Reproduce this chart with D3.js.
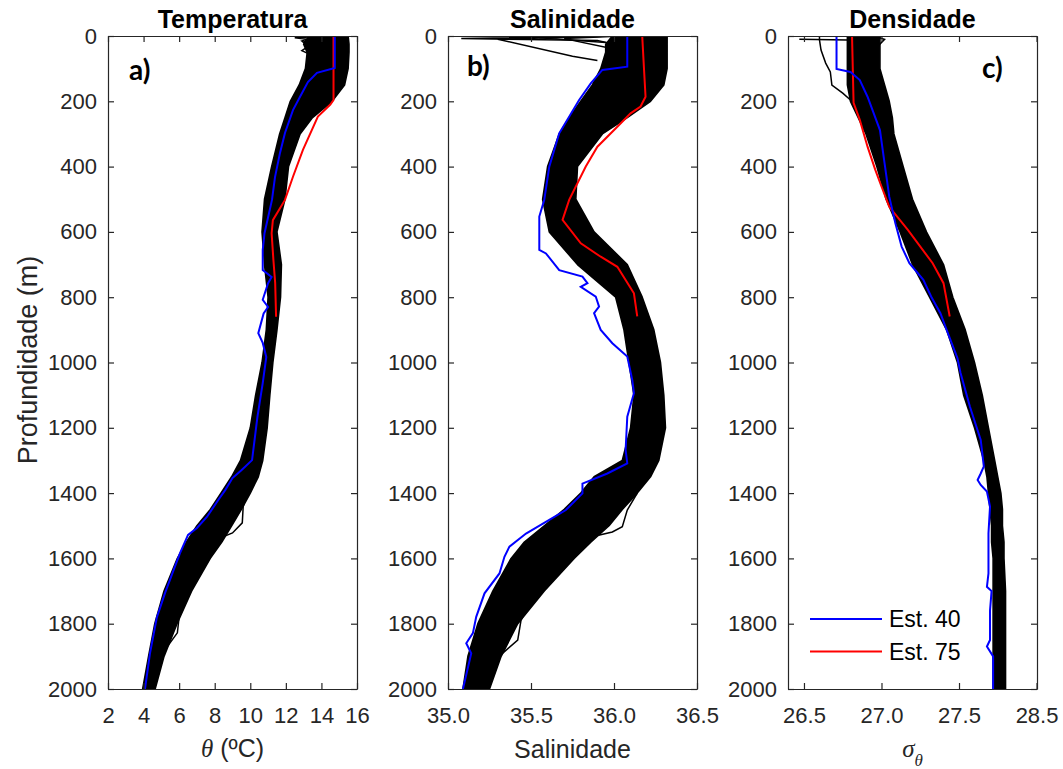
<!DOCTYPE html>
<html>
<head>
<meta charset="utf-8">
<script src="https://cdn.jsdelivr.net/npm/d3@7"></script>
<style>
  body { margin: 0; background: #fff; }
  text { font-family: "Liberation Sans", Arial, sans-serif; }
</style>
</head>
<body>
<svg id="chart" width="1063" height="769"></svg>
<script>
// ---------------- DATA ----------------
const depthTicks = [0, 200, 400, 600, 800, 1000, 1200, 1400, 1600, 1800, 2000];

// common depth grid for the envelope of the ~70 black casts
const depthGrid = [0, 25, 50, 100, 150, 200, 250, 300, 400, 500, 600, 700, 800, 900, 1000, 1100, 1200, 1300, 1350, 1400, 1450, 1500, 1550, 1600, 1700, 1800, 1900, 2000];

// Temperature (theta, degC)
const tempTicks = [2, 4, 6, 8, 10, 12, 14, 16];
const tempTickLabels = ["2", "4", "6", "8", "10", "12", "14", "16"];
const tempCastsMin = [13.3, 13.0, 13.2, 13.1, 12.75, 12.25, 11.95, 11.65, 11.2, 10.8, 10.66, 10.8, 11.0, 10.9, 10.66, 10.3, 10.0, 9.45, 8.95, 8.35, 7.75, 7.0, 6.4, 5.9, 5.15, 4.63, 4.28, 3.95];
const tempCastsMax = [15.5, 15.55, 15.55, 15.5, 15.3, 14.6, 13.5, 12.8, 12.15, 11.95, 11.5, 11.75, 11.7, 11.5, 11.27, 11.1, 10.95, 10.7, 10.45, 10.0, 9.5, 8.95, 8.4, 7.75, 6.7, 5.88, 5.15, 4.65];
const tempOutlierA = [[1380, 9.9], [1442, 9.6], [1491, 9.55], [1522, 9.0], [1534, 8.46], [1550, 8.1]];
const tempOutlierB = [[1730, 6.3], [1779, 6.0], [1828, 5.9], [1865, 5.4], [1885, 5.05]];
const tempSpikeA = [[0, 14.5], [5, 12.5], [10, 13.2], [20, 13.0], [35, 13.6]];
const tempSpikeB = [[0, 13.8], [15, 12.9], [30, 13.3], [45, 12.9], [60, 13.5]];
const tempEst40 = [[0, 14.75], [98, 14.75], [113, 13.75], [141, 13.24], [187, 12.79], [227, 12.4], [297, 11.95], [358, 11.67], [432, 11.39], [502, 11.22], [604, 10.8], [655, 10.7], [717, 10.7], [738, 11.2], [757, 11.0], [808, 10.7], [830, 11.0], [850, 10.75], [910, 10.45], [940, 10.7], [983, 10.9], [1063, 10.7], [1167, 10.4], [1299, 10.1], [1330, 9.5], [1354, 9.0], [1390, 8.6], [1421, 8.2], [1473, 7.56], [1507, 7.0], [1528, 6.5], [1584, 6.05], [1641, 5.65], [1707, 5.2], [1780, 4.75], [1891, 4.36], [2000, 4.08]];
const tempEst75 = [[0, 14.68], [196, 14.68], [210, 14.5], [247, 13.8], [349, 12.96], [431, 12.4], [502, 11.95], [564, 11.27], [604, 11.2], [686, 11.3], [757, 11.4], [860, 11.45]];

// Salinity
const salTicks = [35.0, 35.5, 36.0, 36.5];
const salTickLabels = ["35.0", "35.5", "36.0", "36.5"];
const salCastsMin = [35.99, 35.95, 35.95, 35.92, 35.87, 35.80, 35.73, 35.67, 35.60, 35.57, 35.61, 35.78, 36.01, 36.06, 36.09, 36.12, 36.10, 36.05, 35.88, 35.80, 35.70, 35.58, 35.46, 35.38, 35.27, 35.18, 35.12, 35.09];
const salCastsMax = [36.32, 36.32, 36.32, 36.32, 36.30, 36.22, 36.08, 35.93, 35.78, 35.77, 35.88, 36.08, 36.17, 36.24, 36.28, 36.30, 36.31, 36.27, 36.22, 36.14, 36.05, 35.97, 35.86, 35.76, 35.58, 35.42, 35.32, 35.25];
const salOutlierA = [[1400, 36.14], [1452, 36.08], [1503, 36.05], [1519, 35.99], [1530, 35.90]];
const salOutlierB = [[1750, 35.48], [1789, 35.44], [1850, 35.42], [1890, 35.33], [1910, 35.28]];
const salSpikeA = [[0, 36.02], [8, 35.08], [14, 35.9], [25, 36.0]];
const salSpikeB = [[0, 35.98], [10, 35.3], [62, 35.75], [75, 35.9]];
const salSpikeC = [[0, 36.0], [5, 35.55], [20, 35.95]];
const salSpikeD = [[0, 36.05], [8, 35.7], [40, 36.0]];
const salEst40 = [[0, 36.08], [94, 36.08], [104, 35.93], [145, 35.86], [196, 35.79], [298, 35.67], [400, 35.61], [502, 35.58], [553, 35.55], [655, 35.55], [666, 35.59], [717, 35.67], [737, 35.81], [757, 35.84], [768, 35.80], [798, 35.89], [829, 35.91], [849, 35.88], [900, 35.92], [941, 35.99], [982, 36.08], [1053, 36.11], [1094, 36.12], [1166, 36.08], [1268, 36.07], [1309, 36.08], [1340, 35.96], [1371, 35.81], [1401, 35.81], [1452, 35.71], [1482, 35.61], [1524, 35.47], [1564, 35.37], [1595, 35.34], [1646, 35.31], [1707, 35.22], [1779, 35.17], [1829, 35.15], [1860, 35.11], [1891, 35.14], [2000, 35.09]];
const salEst75 = [[0, 36.17], [94, 36.18], [186, 36.19], [216, 36.16], [237, 36.10], [278, 36.02], [339, 35.90], [400, 35.83], [502, 35.73], [563, 35.69], [635, 35.80], [676, 35.92], [707, 36.02], [788, 36.12], [859, 36.14]];

// Density (sigma-theta)
const densTicks = [26.5, 27.0, 27.5, 28.0];
const densTickLabels = ["26.5", "27.0", "27.5", "28.5"];
const densCastsMin = [26.78, 26.78, 26.78, 26.78, 26.78, 26.80, 26.85, 26.90, 26.97, 27.03, 27.12, 27.20, 27.31, 27.42, 27.49, 27.53, 27.60, 27.66, 27.68, 27.69, 27.70, 27.71, 27.71, 27.72, 27.72, 27.72, 27.72, 27.72];
const densCastsMax = [26.99, 26.99, 26.99, 26.99, 27.02, 27.05, 27.07, 27.08, 27.14, 27.20, 27.29, 27.40, 27.46, 27.54, 27.60, 27.65, 27.69, 27.73, 27.75, 27.77, 27.78, 27.78, 27.79, 27.79, 27.80, 27.80, 27.80, 27.80];
const densOutlierA = [[0, 26.60], [12, 26.60], [43, 26.61], [83, 26.64], [110, 26.67], [150, 26.68], [175, 26.75], [196, 26.80]];
const densSpikeA = [[10, 26.47], [12, 26.78], [20, 26.85]];
const densSpikeB = [[0, 26.95], [10, 27.02], [30, 26.98]];
const densEst40 = [[0, 26.71], [101, 26.71], [110, 26.80], [135, 26.86], [186, 26.91], [288, 26.99], [390, 27.02], [492, 27.05], [574, 27.09], [645, 27.13], [696, 27.18], [747, 27.27], [798, 27.32], [849, 27.38], [900, 27.42], [987, 27.49], [1032, 27.51], [1135, 27.57], [1237, 27.64], [1318, 27.66], [1340, 27.64], [1360, 27.62], [1375, 27.64], [1395, 27.68], [1441, 27.70], [1523, 27.69], [1646, 27.69], [1687, 27.68], [1700, 27.71], [1760, 27.70], [1850, 27.70], [1870, 27.68], [1900, 27.72], [2000, 27.72]];
const densEst75 = [[0, 26.81], [205, 26.82], [257, 26.86], [339, 26.91], [410, 26.96], [461, 27.0], [523, 27.05], [594, 27.17], [696, 27.33], [757, 27.40], [859, 27.44]];

const legendNames = ["Est. 40", "Est. 75"];

// ---------------- DRAWING ----------------
const svg = d3.select("#chart");
const AX = "#262626";
const yScale = d3.scaleLinear().domain([0, 2000]).range([36, 689]);

const panels = [
  { id: "a", title: "Temperatura", letter: "a)", left: 108, right: 357, domain: [2, 16],
    ticks: tempTicks, labels: tempTickLabels, lo: tempCastsMin, hi: tempCastsMax,
    extras: [tempOutlierA, tempOutlierB, tempSpikeA, tempSpikeB], blue: tempEst40, red: tempEst75,
    letterPos: [129, 80] },
  { id: "b", title: "Salinidade", letter: "b)", left: 448, right: 697, domain: [35.0, 36.5],
    ticks: salTicks, labels: salTickLabels, lo: salCastsMin, hi: salCastsMax,
    extras: [salOutlierA, salOutlierB, salSpikeA, salSpikeB, salSpikeC, salSpikeD], blue: salEst40, red: salEst75,
    letterPos: [467, 76] },
  { id: "c", title: "Densidade", letter: "c)", left: 788, right: 1037, domain: [26.397, 28.003],
    ticks: densTicks, labels: densTickLabels, lo: densCastsMin, hi: densCastsMax,
    extras: [densOutlierA, densSpikeA, densSpikeB], blue: densEst40, red: densEst75,
    letterPos: [982, 78] }
];

const defs = svg.append("defs");

panels.forEach(p => {
  const x = d3.scaleLinear().domain(p.domain).range([p.left, p.right]);
  defs.append("clipPath").attr("id", "clip-" + p.id)
    .append("rect").attr("x", p.left).attr("y", 36).attr("width", p.right - p.left).attr("height", 689 - 36);

  const plot = svg.append("g").attr("clip-path", `url(#clip-${p.id})`);

  const rows = depthGrid.map((d, i) => ({ d: d, lo: p.lo[i], hi: p.hi[i] }));
  plot.append("path").datum(rows)
    .attr("d", d3.area().y(r => yScale(r.d)).x0(r => x(r.lo)).x1(r => x(r.hi)))
    .attr("fill", "#000").attr("stroke", "#000").attr("stroke-width", 1.6).attr("stroke-linejoin", "round");

  const line = d3.line().x(d => x(d[1])).y(d => yScale(d[0]));
  p.extras.forEach(e => {
    plot.append("path").datum(e).attr("d", line)
      .attr("fill", "none").attr("stroke", "#000").attr("stroke-width", 1.5);
  });
  plot.append("path").datum(p.red).attr("d", line)
    .attr("fill", "none").attr("stroke", "#ff0000").attr("stroke-width", 2);
  plot.append("path").datum(p.blue).attr("d", line)
    .attr("fill", "none").attr("stroke", "#0000ff").attr("stroke-width", 2);

  // axes (ticks pointing inwards on all sides)
  const style = g => {
    g.selectAll(".domain").attr("stroke", AX).attr("stroke-width", 1.2);
    g.selectAll(".tick line").attr("stroke", AX).attr("stroke-width", 1.2);
    g.selectAll(".tick text").attr("fill", AX).style("font-size", "22px")
      .style("font-family", '"Liberation Sans", Arial, sans-serif');
  };
  svg.append("g").attr("transform", "translate(0,689)")
    .call(d3.axisBottom(x).tickValues(p.ticks).tickFormat((d, i) => p.labels[i]).tickSize(-6).tickSizeOuter(0).tickPadding(18))
    .call(style);
  svg.append("g").attr("transform", "translate(0,36)")
    .call(d3.axisTop(x).tickValues(p.ticks).tickFormat(() => "").tickSize(-6).tickSizeOuter(0))
    .call(style);
  svg.append("g").attr("transform", `translate(${p.left},0)`)
    .call(d3.axisLeft(yScale).tickValues(depthTicks).tickFormat(d3.format("d")).tickSize(-6).tickSizeOuter(0).tickPadding(11))
    .call(style);
  svg.append("g").attr("transform", `translate(${p.right},0)`)
    .call(d3.axisRight(yScale).tickValues(depthTicks).tickFormat(() => "").tickSize(-6).tickSizeOuter(0))
    .call(style);

  // title
  svg.append("text").attr("x", (p.left + p.right) / 2).attr("y", 28)
    .attr("text-anchor", "middle").style("font-size", "25px").style("font-weight", "bold")
    .attr("fill", "#000").text(p.title);

  // panel letter
  svg.append("text").attr("x", p.letterPos[0]).attr("y", p.letterPos[1])
    .style("font-family", "Lato, 'Open Sans', sans-serif").style("font-weight", "bold")
    .style("font-size", "28px").attr("fill", "#000").text(p.letter);
});

// x-axis labels
const xa = svg.append("text").attr("x", (panels[0].left + panels[0].right) / 2).attr("y", 757)
  .attr("text-anchor", "middle").attr("fill", AX).style("font-size", "25px");
xa.append("tspan").style("font-family", '"Liberation Serif", serif').style("font-style", "italic").text("θ");
xa.append("tspan").text(" (ºC)");

svg.append("text").attr("x", (panels[1].left + panels[1].right) / 2).attr("y", 758)
  .attr("text-anchor", "middle").attr("fill", AX).style("font-size", "25px").text("Salinidade");

const xc = svg.append("text").attr("x", (panels[2].left + panels[2].right) / 2).attr("y", 757)
  .attr("text-anchor", "middle").attr("fill", AX)
  .style("font-family", '"Liberation Serif", serif').style("font-style", "italic").style("font-size", "25px");
xc.append("tspan").text("σ");
xc.append("tspan").attr("dy", 9).style("font-size", "17px").text("θ");

// y-axis label
svg.append("text").attr("transform", "translate(37,360) rotate(-90)")
  .attr("text-anchor", "middle").attr("fill", AX).style("font-size", "27px").text("Profundidade (m)");

// legend inside panel c
const lg = svg.append("g");
const legendColors = ["#0000ff", "#ff0000"];
legendNames.forEach((name, i) => {
  const yy = 619 + i * 32.5;
  lg.append("line").attr("x1", 810).attr("x2", 882).attr("y1", yy).attr("y2", yy)
    .attr("stroke", legendColors[i]).attr("stroke-width", 2);
  lg.append("text").attr("x", 889).attr("y", yy + 8).attr("fill", "#000")
    .style("font-size", "23px").text(name);
});
</script>
</body>
</html>
